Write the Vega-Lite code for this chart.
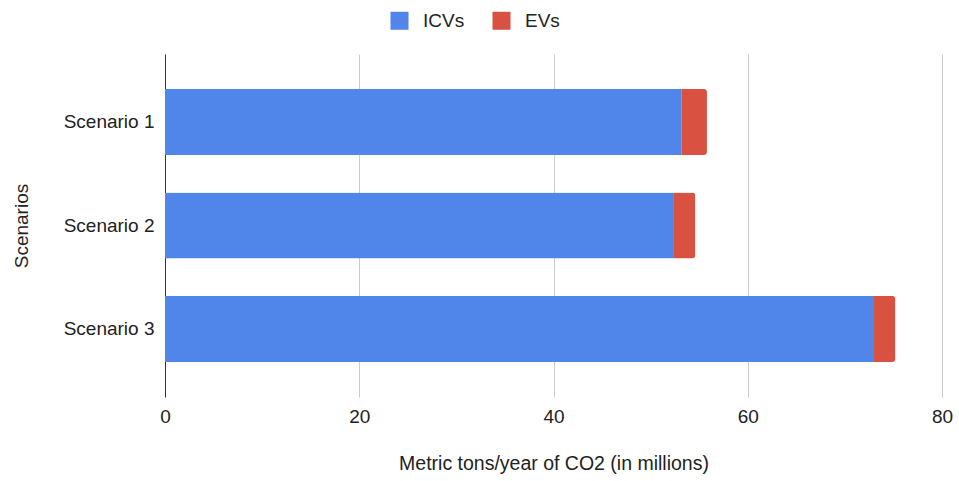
{
  "$schema": "https://vega.github.io/schema/vega-lite/v6.json",
  "width": 777,
  "height": 343,
  "autosize": {"type": "none"},
  "padding": {"left": 165, "top": 54, "right": 17, "bottom": 84},
  "background": "#ffffff",
  "config": {
    "font": "Liberation Sans",
    "view": {"stroke": null}
  },
  "data": {
    "values": [
      {"scenario": "Scenario 1", "type": "ICVs", "emissions": 53.2},
      {"scenario": "Scenario 1", "type": "EVs", "emissions": 2.6},
      {"scenario": "Scenario 2", "type": "ICVs", "emissions": 52.4},
      {"scenario": "Scenario 2", "type": "EVs", "emissions": 2.2},
      {"scenario": "Scenario 3", "type": "ICVs", "emissions": 73.0},
      {"scenario": "Scenario 3", "type": "EVs", "emissions": 2.2}
    ]
  },
  "mark": {"type": "bar", "cornerRadiusEnd": 3},
  "encoding": {
    "y": {
      "field": "scenario",
      "type": "nominal",
      "sort": ["Scenario 1", "Scenario 2", "Scenario 3"],
      "scale": {"paddingInner": 0.362, "paddingOuter": 0.338},
      "axis": {
        "title": "Scenarios",
        "titleFontSize": 19,
        "titleFontWeight": "normal",
        "titleColor": "#222222",
        "titlePadding": 32,
        "labelFontSize": 19,
        "labelColor": "#222222",
        "labelPadding": 11,
        "ticks": false,
        "domainColor": "#333333",
        "domainWidth": 1
      }
    },
    "x": {
      "field": "emissions",
      "type": "quantitative",
      "stack": "zero",
      "scale": {"domain": [0, 80], "nice": false},
      "axis": {
        "title": "Metric tons/year of CO2 (in millions)",
        "values": [0, 20, 40, 60, 80],
        "titleFontSize": 19.5,
        "titleFontWeight": "normal",
        "titleColor": "#222222",
        "titlePadding": 28,
        "labelFontSize": 19,
        "labelColor": "#222222",
        "labelPadding": 10,
        "labelFlush": false,
        "ticks": false,
        "domain": false,
        "grid": true,
        "gridColor": "#cccccc",
        "gridWidth": 1
      }
    },
    "color": {
      "field": "type",
      "type": "nominal",
      "sort": ["ICVs", "EVs"],
      "scale": {"domain": ["ICVs", "EVs"], "range": ["#5085ea", "#d95140"]},
      "legend": {
        "title": null,
        "orient": "none",
        "direction": "horizontal",
        "legendX": 225,
        "legendY": -43,
        "symbolType": "square",
        "symbolSize": 324,
        "symbolStrokeWidth": 0,
        "labelFontSize": 19,
        "labelColor": "#222222",
        "labelOffset": 14,
        "columnPadding": 27
      }
    },
    "order": {"field": "type", "sort": "descending"}
  }
}
